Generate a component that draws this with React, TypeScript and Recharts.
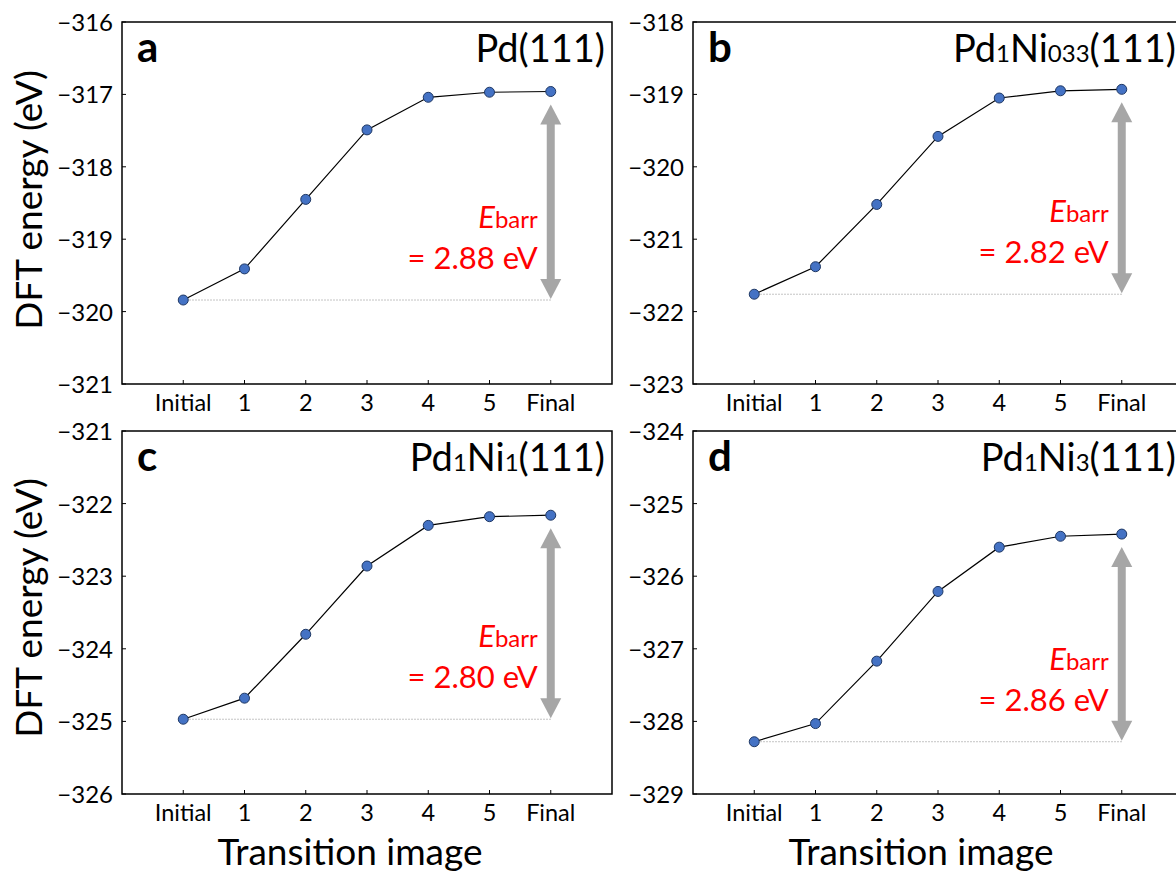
import React from "react"
import { LineChart, Line, XAxis, YAxis, ReferenceLine, ReferenceArea } from "recharts"

// transition images along the path
const stages = ["Initial", "1", "2", "3", "4", "5", "Final"]
const stagePos = [1, 2, 3, 4, 5, 6, 7]

// DFT energies (eV) per surface
const energyPd = [-319.84, -319.41, -318.45, -317.49, -317.04, -316.97, -316.96]
const energyNi033 = [-321.76, -321.38, -320.52, -319.58, -319.05, -318.95, -318.93]
const energyNi1 = [-324.97, -324.68, -323.8, -322.86, -322.3, -322.18, -322.16]
const energyNi3 = [-328.28, -328.03, -327.17, -326.21, -325.6, -325.45, -325.42]

const barriers = ["2.88", "2.82", "2.80", "2.86"]

const ticksA = [-321, -320, -319, -318, -317, -316]
const ticksB = [-323, -322, -321, -320, -319, -318]
const ticksC = [-326, -325, -324, -323, -322, -321]
const ticksD = [-329, -328, -327, -326, -325, -324]

const FONT = "Lato, 'Open Sans', sans-serif"
const PLOT_W = 490
const YAXIS_W = 122
const TOP_M = 22

const panels = [
  { letter: "a", title: [["Pd", 0], ["(111)", 0]], energy: energyPd, ticks: ticksA, barrier: barriers[0], left: 122, top: 22, h: 362 },
  { letter: "b", title: [["Pd", 0], ["1", 1], ["Ni", 0], ["033", 1], ["(111)", 0]], energy: energyNi033, ticks: ticksB, barrier: barriers[1], left: 693, top: 22, h: 362 },
  { letter: "c", title: [["Pd", 0], ["1", 1], ["Ni", 0], ["1", 1], ["(111)", 0]], energy: energyNi1, ticks: ticksC, barrier: barriers[2], left: 122, top: 431, h: 363 },
  { letter: "d", title: [["Pd", 0], ["1", 1], ["Ni", 0], ["3", 1], ["(111)", 0]], energy: energyNi3, ticks: ticksD, barrier: barriers[3], left: 693, top: 431, h: 363 },
]

const fmt = (v: number) => (v < 0 ? "\u2212" + Math.abs(v) : String(v))

function YTick(props: any) {
  const { x, y, payload } = props
  return (
    <g>
      <line x1={x} x2={x + 4} y1={y} y2={y} stroke="#000" strokeWidth={1} />
      <text x={x - 9} y={y + 9} textAnchor="end" fontSize={24} fill="#000" fontFamily={FONT}>
        {fmt(payload.value)}
      </text>
    </g>
  )
}

function XTick(props: any) {
  const { x, y, payload } = props
  return (
    <g>
      <line x1={x} x2={x} y1={y} y2={y - 4} stroke="#000" strokeWidth={1} />
      <text x={x} y={y + 27} textAnchor="middle" fontSize={23.5} fill="#000" fontFamily={FONT}>
        {stages[payload.value - 1]}
      </text>
    </g>
  )
}

function BarrierArrow(props: any) {
  const { x1, y1, y2, barrier } = props
  const x = x1
  const low = Math.max(y1, y2)
  const high = Math.min(y1, y2)
  const tipTop = high + 13
  const tipBot = low - 1
  const hh = 20
  const hw = 10.5
  const sw = 4
  const gray = "#A6A6A6"
  return (
    <g>
      <rect x={x - sw} y={tipTop + hh - 1} width={sw * 2} height={tipBot - tipTop - 2 * hh + 2} fill={gray} />
      <polygon points={`${x},${tipTop} ${x - hw},${tipTop + hh} ${x + hw},${tipTop + hh}`} fill={gray} />
      <polygon points={`${x},${tipBot} ${x - hw},${tipBot - hh} ${x + hw},${tipBot - hh}`} fill={gray} />
      <text x={x - 13} y={low - 72} textAnchor="end" fill="#FF0000" fontFamily={FONT}>
        <tspan fontStyle="italic" fontSize={31}>E</tspan>
        <tspan fontSize={24}>barr</tspan>
      </text>
      <text x={x - 13} y={low - 31} textAnchor="end" fill="#FF0000" fontSize={31} fontFamily={FONT}>
        = {barrier} eV
      </text>
    </g>
  )
}

function Panel({ p }: { p: (typeof panels)[number] }) {
  const data = stagePos.map((x, i) => ({ x, e: p.energy[i] }))
  const yMin = p.ticks[0]
  const yMax = p.ticks[p.ticks.length - 1]
  const init = p.energy[0]
  const fin = p.energy[p.energy.length - 1]
  const chartH = TOP_M + p.h + 40
  return (
    <div style={{ position: "absolute", left: p.left - YAXIS_W, top: p.top - TOP_M }}>
      <LineChart width={YAXIS_W + PLOT_W + 10} height={chartH} data={data} margin={{ top: TOP_M, right: 10, left: 0, bottom: 0 }}>
        <XAxis
          type="number"
          dataKey="x"
          domain={[0, 8]}
          ticks={stagePos}
          interval={0}
          height={40}
          axisLine={false}
          tickLine={false}
          tickSize={0}
          tickMargin={0}
          tick={<XTick />}
        />
        <YAxis
          type="number"
          domain={[yMin, yMax]}
          ticks={p.ticks}
          interval={0}
          width={YAXIS_W}
          axisLine={false}
          tickLine={false}
          tickSize={0}
          tickMargin={0}
          tick={<YTick />}
          allowDataOverflow
        />
        <ReferenceArea x1={0} x2={8} y1={yMin} y2={yMax} fill="none" fillOpacity={0} stroke="#000" strokeWidth={1.5} ifOverflow="visible" />
        <ReferenceLine
          segment={[{ x: 1, y: init }, { x: 7, y: init }]}
          stroke="#B0B0B0"
          strokeWidth={1}
          strokeDasharray="1.5 1.5"
        />
        <ReferenceLine
          segment={[{ x: 7, y: init }, { x: 7, y: fin }]}
          shape={(sp: any) => <BarrierArrow {...sp} barrier={p.barrier} />}
        />
        <Line
          type="linear"
          dataKey="e"
          stroke="#000"
          strokeWidth={1.2}
          dot={{ r: 5, fill: "#4472C4", stroke: "#1F3864", strokeWidth: 1 }}
          isAnimationActive={false}
        />
      </LineChart>
    </div>
  )
}

export default function App() {
  return (
    <div style={{ position: "fixed", left: 0, top: 0, width: 1176, height: 873, background: "#fff", overflow: "hidden", fontFamily: FONT }}>
      {panels.map((p) => (
        <Panel key={p.letter} p={p} />
      ))}
      <svg width={1176} height={873} style={{ position: "absolute", left: 0, top: 0, pointerEvents: "none" }}>
        {panels.map((p) => (
          <g key={p.letter}>
            <text x={p.left + 15} y={p.top + 40} fontSize={42} fontWeight="bold" fontFamily={FONT} fill="#000">
              {p.letter}
            </text>
            <text x={p.left + PLOT_W - 7} y={p.top + 40} textAnchor="end" fontSize={38} fontFamily={FONT} fill="#000">
              {p.title.map(([t, sub], i) => (
                <tspan key={i} fontSize={sub ? 24 : 38}>{t}</tspan>
              ))}
            </text>
          </g>
        ))}
        <text transform="translate(42,200) rotate(-90)" textAnchor="middle" fontSize={37} fontFamily={FONT} fill="#000">
          DFT energy (eV)
        </text>
        <text transform="translate(42,608) rotate(-90)" textAnchor="middle" fontSize={37} fontFamily={FONT} fill="#000">
          DFT energy (eV)
        </text>
        <text x={350} y={865} textAnchor="middle" fontSize={37} fontFamily={FONT} fill="#000">
          Transition image
        </text>
        <text x={921} y={865} textAnchor="middle" fontSize={37} fontFamily={FONT} fill="#000">
          Transition image
        </text>
      </svg>
    </div>
  )
}
